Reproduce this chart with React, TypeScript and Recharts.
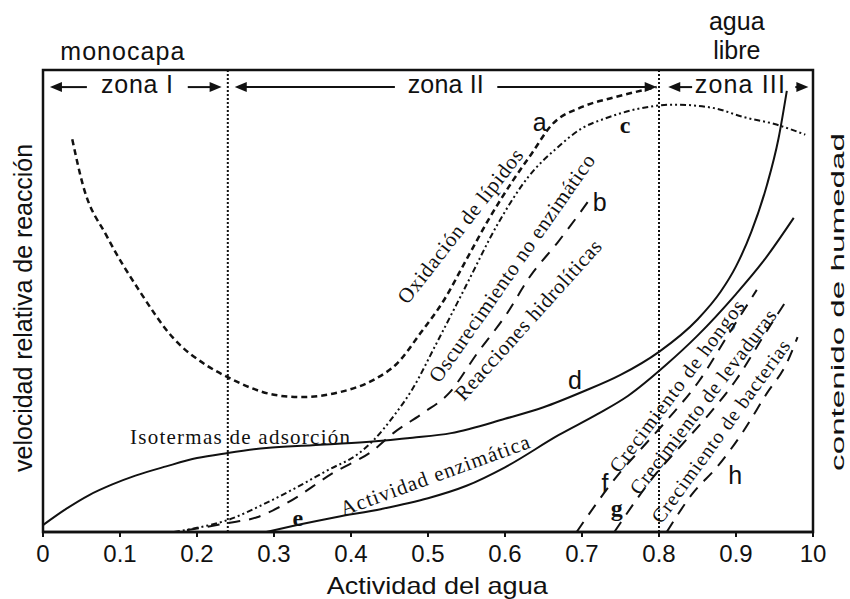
import React from "react";
import {
  LineChart,
  Line,
  XAxis,
  YAxis,
  ReferenceLine,
  ReferenceDot,
  ReferenceArea,
} from "recharts";

// ---------- axis ----------
const xTicks = [0, 0.1, 0.2, 0.3, 0.4, 0.5, 0.6, 0.7, 0.8, 0.9, 1.0];
const xTickLabels = ["0", "0.1", "0.2", "0.3", "0.4", "0.5", "0.6", "0.7", "0.8", "0.9", "10"];
const zoneBoundaries = [0.24, 0.8];

// ---------- series (actividad del agua -> velocidad relativa) ----------
const isoX = [0, 0.03, 0.06, 0.09, 0.12, 0.16, 0.2, 0.24, 0.29, 0.35, 0.42, 0.48, 0.53, 0.6, 0.65, 0.7, 0.75, 0.8, 0.85, 0.88, 0.9, 0.92, 0.94, 0.955, 0.966];
const isoV = [1.5, 5, 8, 10.3, 12.2, 14.2, 16, 17.1, 18.2, 18.8, 19.5, 20.4, 21.4, 24.5, 27, 30.3, 34, 39, 46, 52, 57.5, 65, 75, 85, 95.5];

const enzX = [0.29, 0.33, 0.38, 0.44, 0.5, 0.55, 0.6, 0.67, 0.72, 0.76, 0.81, 0.85, 0.9, 0.935, 0.975];
const enzV = [0, 1.5, 3.2, 5, 7.3, 10, 14, 21, 25.5, 29.5, 36.3, 42.5, 51.5, 58.5, 68];

const oxX = [0.038, 0.052, 0.083, 0.126, 0.169, 0.213, 0.24, 0.27, 0.3, 0.334, 0.386, 0.43, 0.46, 0.49, 0.52, 0.55, 0.58, 0.61, 0.635, 0.66, 0.7, 0.74, 0.797];
const oxV = [85, 75, 64, 52, 42, 36, 33.5, 31.2, 29.7, 29.2, 30.3, 33, 36.5, 43, 50, 59, 68, 76, 82, 88, 92, 94, 96.3];

const oscX = [0.17, 0.2, 0.24, 0.29, 0.33, 0.37, 0.41, 0.43, 0.455, 0.48, 0.51, 0.55, 0.59, 0.63, 0.67, 0.7, 0.73, 0.77, 0.82, 0.87, 0.91, 0.95, 0.99];
const oscV = [0, 0.9, 2.6, 6.3, 9.7, 13.4, 17, 20, 25, 31, 40.5, 53.5, 66.5, 76.8, 83.5, 87.4, 89.5, 91.5, 92.5, 91.8, 89.8, 88.3, 86];

const hidX = [0.187, 0.239, 0.278, 0.317, 0.377, 0.429, 0.455, 0.494, 0.527, 0.564, 0.603, 0.632, 0.668, 0.697, 0.712];
const hidV = [0.4, 1.9, 3.2, 6.3, 12.8, 17.7, 21.4, 25.8, 30, 38.7, 47.4, 55.2, 62.6, 69, 72.5];

const hongX = [0.693, 0.749, 0.779, 0.814, 0.853, 0.888, 0.927];
const hongV = [0, 12.8, 18.4, 24.9, 32.9, 42.2, 52.4];

const levX = [0.742, 0.797, 0.827, 0.862, 0.9, 0.935, 0.965];
const levV = [0, 12.8, 18.4, 24.9, 32.9, 42.2, 50];

const bacX = [0.81, 0.844, 0.875, 0.908, 0.94, 0.966, 0.98];
const bacV = [0, 8.4, 14, 21.4, 30, 36.6, 42.2];

const zip = (xs: number[], vs: number[]) => xs.map((x, i) => ({ aw: x, v: vs[i] }));

const INK = "#111";
const SANS = "'Liberation Sans', Arial, sans-serif";
const SERIF = "'Liberation Serif', 'Times New Roman', serif";

type Ann = {
  text: string;
  x: number;
  y: number;
  size: number;
  family: string;
  weight?: string;
  angle?: number;
  anchor?: "start" | "middle" | "end";
  base?: "central" | "alphabetic";
  len?: number;
  stretch?: boolean;
};

const annotations: Ann[] = [
  { text: "monocapa", x: 0.103, y: 102.2, size: 25, family: SANS, base: "alphabetic", len: 124 },
  { text: "agua", x: 0.901, y: 108.7, size: 25, family: SANS, base: "alphabetic" },
  { text: "libre", x: 0.901, y: 102.4, size: 25, family: SANS, base: "alphabetic" },
  { text: "zona I", x: 0.122, y: 95, size: 25, family: SANS, base: "alphabetic", len: 72 },
  { text: "zona II", x: 0.523, y: 95, size: 25, family: SANS, base: "alphabetic", len: 76 },
  { text: "zona III", x: 0.905, y: 95, size: 25, family: SANS, base: "alphabetic", len: 90 },
  { text: "velocidad relativa de reacción", x: -0.026, y: 48.5, size: 25, family: SANS, angle: -90, len: 328 },
  { text: "contenido de humedad", x: 1.032, y: 49.8, size: 19, family: SANS, angle: -90, len: 338, stretch: true },
  { text: "Actividad del agua", x: 0.512, y: -13.4, size: 24, family: SANS, base: "alphabetic", len: 221, stretch: true },
  { text: "a", x: 0.645, y: 88.7, size: 25, family: SANS },
  { text: "c", x: 0.756, y: 88.1, size: 24, family: SERIF, weight: "bold" },
  { text: "b", x: 0.723, y: 71.4, size: 25, family: SANS },
  { text: "d", x: 0.691, y: 32.9, size: 25, family: SANS },
  { text: "e", x: 0.331, y: 3.0, size: 24, family: SERIF, weight: "bold" },
  { text: "f", x: 0.73, y: 10.6, size: 25, family: SANS },
  { text: "g", x: 0.745, y: 5.2, size: 24, family: SERIF, weight: "bold" },
  { text: "h", x: 0.899, y: 12.3, size: 25, family: SANS },
  { text: "Oxidación de lípidos", x: 0.542, y: 66.2, size: 21, family: SERIF, angle: -52, len: 190 },
  { text: "Oscurecimiento no enzimático", x: 0.609, y: 57.1, size: 21, family: SERIF, angle: -55, len: 273 },
  { text: "Reacciones hidrolíticas", x: 0.63, y: 45.9, size: 21, family: SERIF, angle: -48, len: 208 },
  { text: "Isotermas de adsorción", x: 0.113, y: 19.0, size: 21, family: SERIF, anchor: "start", base: "alphabetic", len: 220 },
  { text: "Actividad enzimática", x: 0.509, y: 12.3, size: 21, family: SERIF, angle: -20, len: 200 },
  { text: "Crecimiento de hongos", x: 0.823, y: 31.6, size: 20, family: SERIF, angle: -53, len: 210 },
  { text: "Crecimiento de levaduras", x: 0.857, y: 28.2, size: 20, family: SERIF, angle: -52.5, len: 227 },
  { text: "Crecimiento de bacterias", x: 0.88, y: 21.8, size: 20, family: SERIF, angle: -54, len: 221 },
];

// zone arrows: [tail, tip] in actividad del agua, at zone-label height
const arrowLevel = 96.3;
const arrows: [number, number][] = [
  [0.057, 0.009],
  [0.188, 0.232],
  [0.457, 0.249],
  [0.59, 0.797],
  [0.843, 0.812],
  [0.977, 0.994],
];

const makeText = (a: Ann) => (p: any) => {
  const cx = p.cx;
  const cy = p.cy;
  return (
    <text
      x={cx}
      y={cy}
      textAnchor={a.anchor ?? "middle"}
      dominantBaseline={a.base ?? "central"}
      fontSize={a.size}
      fontFamily={a.family}
      fontWeight={a.weight ?? "normal"}
      fill={INK}
      textLength={a.len}
      lengthAdjust={a.len ? (a.stretch ? "spacingAndGlyphs" : "spacing") : undefined}
      transform={a.angle ? `rotate(${a.angle} ${cx} ${cy})` : undefined}
    >
      {a.text}
    </text>
  );
};

const ArrowShape = (p: any) => {
  const { x1, y1, x2, y2 } = p;
  const dir = Math.sign(x2 - x1) || 1;
  return (
    <g>
      <line x1={x1} y1={y1} x2={x2 - dir * 8} y2={y2} stroke={INK} strokeWidth={2} />
      <polygon
        points={`${x2},${y2} ${x2 - dir * 12},${y2 - 5} ${x2 - dir * 12},${y2 + 5}`}
        fill={INK}
      />
    </g>
  );
};

const series = [
  { key: "iso", data: zip(isoX, isoV), dash: undefined as string | undefined, w: 2 },
  { key: "enz", data: zip(enzX, enzV), dash: undefined, w: 2 },
  { key: "ox", data: zip(oxX, oxV), dash: "6 4", w: 2.5 },
  { key: "osc", data: zip(oscX, oscV), dash: "6 3 2 3 2 3", w: 2 },
  { key: "hid", data: zip(hidX, hidV), dash: "12 9", w: 2 },
  { key: "hong", data: zip(hongX, hongV), dash: "12 9", w: 2 },
  { key: "lev", data: zip(levX, levV), dash: "12 9", w: 2 },
  { key: "bac", data: zip(bacX, bacV), dash: "12 9", w: 2 },
];

export default function App() {
  return (
    <div style={{ position: "absolute", left: 0, top: 0, width: 850, height: 599, background: "#fff" }}>
      <LineChart width={850} height={599} margin={{ top: 70, right: 37, bottom: 7, left: 43 }}>
        <XAxis
          dataKey="aw"
          type="number"
          domain={[0, 1]}
          ticks={xTicks}
          allowDataOverflow
          tickFormatter={(v: number) => xTickLabels[xTicks.indexOf(v)] ?? String(v)}
          height={60}
          axisLine={{ stroke: INK, strokeWidth: 2.5 }}
          tickLine={{ stroke: INK, strokeWidth: 2 }}
          tickSize={5}
          tickMargin={8}
          tick={{ fill: INK, fontSize: 24, fontFamily: SANS }}
          interval={0}
        />
        <YAxis type="number" domain={[0, 100]} hide allowDataOverflow />
        <ReferenceArea
          x1={0}
          x2={1}
          y1={0}
          y2={100}
          fill="none"
          fillOpacity={0}
          stroke={INK}
          strokeWidth={2.5}
          ifOverflow="visible"
        />
        {zoneBoundaries.map((b) => (
          <ReferenceLine key={b} x={b} stroke={INK} strokeWidth={2} strokeDasharray="2 2" />
        ))}
        {series.map((s) => (
          <Line
            key={s.key}
            data={s.data}
            dataKey="v"
            type="monotone"
            stroke={INK}
            strokeWidth={s.w}
            strokeDasharray={s.dash}
            dot={false}
            activeDot={false}
            isAnimationActive={false}
          />
        ))}
        {arrows.map(([t, h], i) => (
          <ReferenceLine
            key={"ar" + i}
            segment={[
              { x: t, y: arrowLevel },
              { x: h, y: arrowLevel },
            ]}
            ifOverflow="visible"
            shape={ArrowShape}
          />
        ))}
        {annotations.map((a, i) => (
          <ReferenceDot
            key={"an" + i}
            x={a.x}
            y={a.y}
            r={0}
            ifOverflow="visible"
            shape={makeText(a)}
          />
        ))}
      </LineChart>
    </div>
  );
}
